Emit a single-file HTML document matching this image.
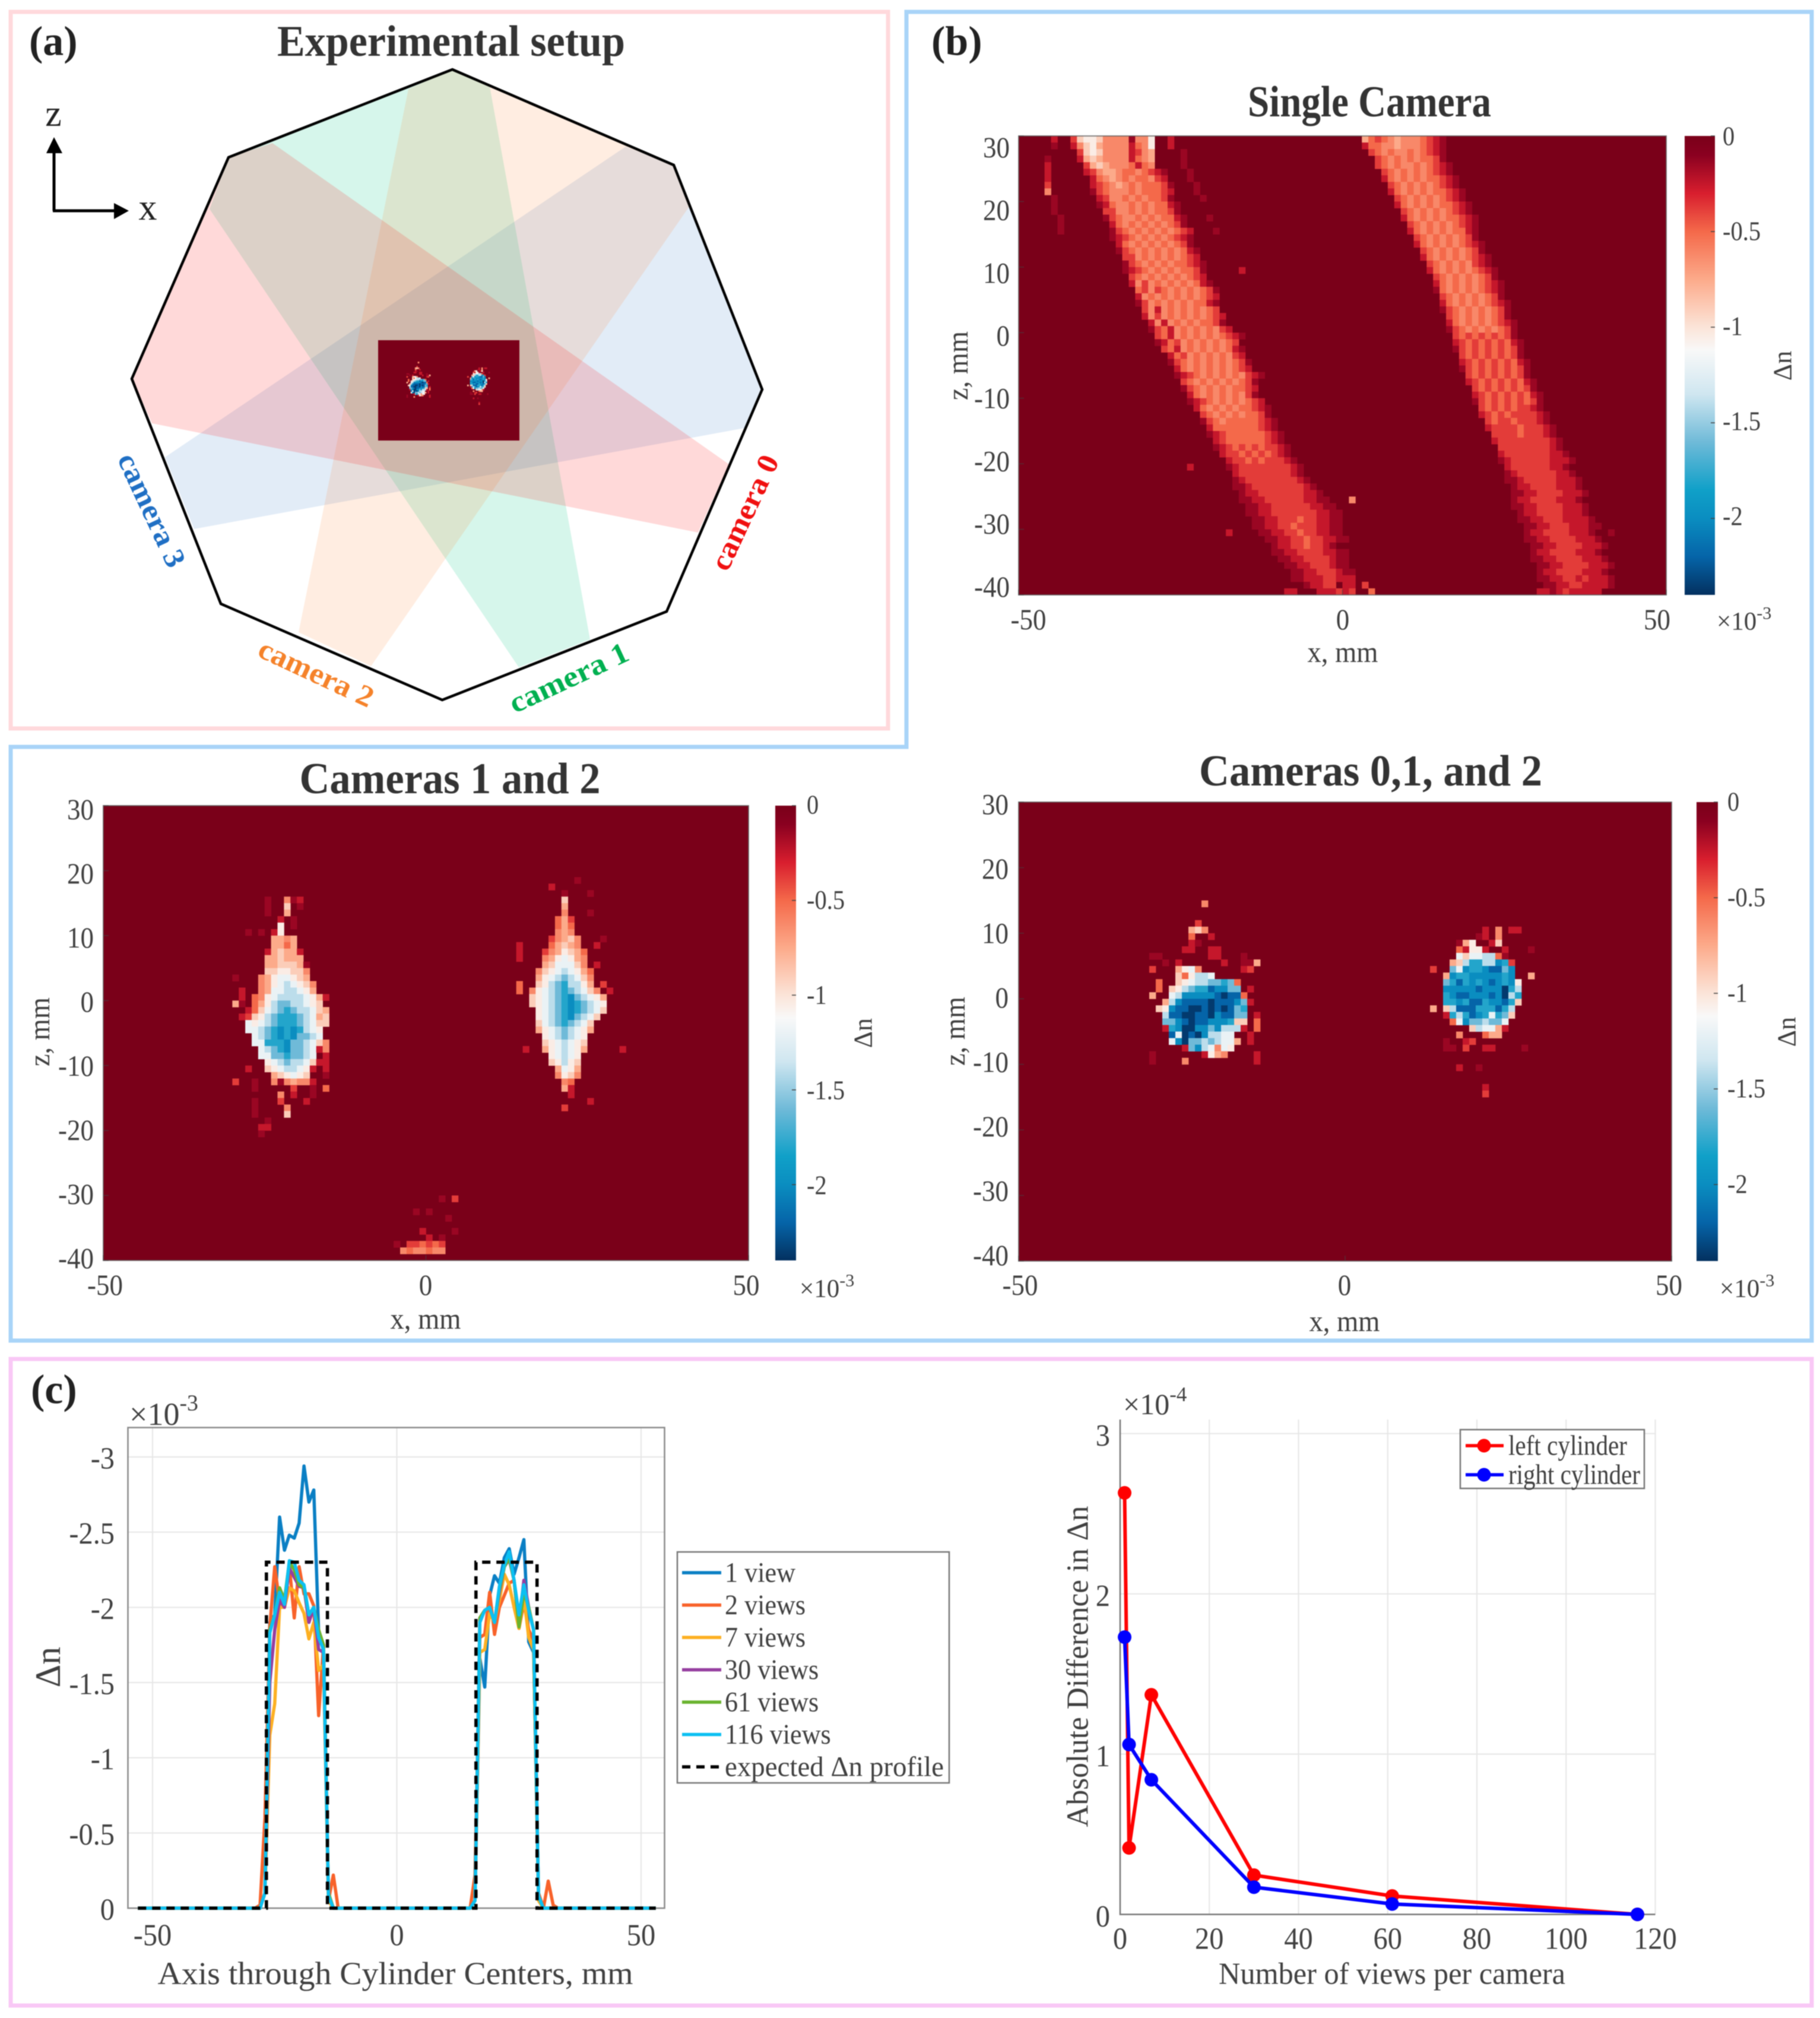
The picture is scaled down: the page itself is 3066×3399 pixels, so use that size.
<!DOCTYPE html>
<html lang="en">
<head>
<meta charset="utf-8">
<title>Refractive index reconstruction figure</title>
<style>
html,body{margin:0;padding:0;background:#fff;}
svg{display:block;filter:blur(0.8px);}
text{font-family:"Liberation Serif","DejaVu Serif",serif;fill:#404040;}
.title{font-weight:bold;font-size:74px;fill:#333;text-anchor:middle;dominant-baseline:central;}
.panel{font-weight:bold;font-size:70px;fill:#222;dominant-baseline:central;}
.cam{font-weight:bold;font-size:50px;text-anchor:middle;dominant-baseline:central;}
.lab{font-size:50px;text-anchor:middle;dominant-baseline:central;}
.leg{font-size:48px;dominant-baseline:central;fill:#404040;}
</style>
</head>
<body>
<svg id="fig" xmlns="http://www.w3.org/2000/svg" width="3066" height="3399" viewBox="0 0 3066 3399">
  <rect width="3066" height="3399" fill="#fff"/>
  <rect x="18" y="20" width="1478" height="1207" fill="none" stroke="#ffd9dc" stroke-width="7"/>
  <polygon points="1527,20 3052,20 3052,2258 18,2258 18,1258 1527,1258" fill="none" stroke="#a9d4f8" stroke-width="7"/>
  <rect x="18" y="2289" width="3034" height="1089" fill="none" stroke="#f9c8f6" stroke-width="7"/>

  <g>
    <polygon points="1054,247 1135,278 1284,656 1254,721 327,891 278,770" fill="rgb(31,111,196)" fill-opacity="0.13"/>
    <polygon points="353,352 874,1124 994,1077 825,146 762,117 385.5,265" fill="rgb(0,200,130)" fill-opacity="0.16"/>
    <polygon points="688,150 503,1065 625,1122 1161,348 1135,278 762,117" fill="rgb(255,127,39)" fill-opacity="0.14"/>
    <polygon points="459,241 1228,782 1176,897 256,713 222.5,638 385.5,265" fill="rgb(255,0,0)" fill-opacity="0.15"/>
    <polygon points="762,117 1135,278 1284,656 1123,1030 745,1179 372,1017 222,638 385,265" fill="none" stroke="#000" stroke-width="4.5"/>
    <g id="miniMap"></g>
    <line x1="91" y1="355" x2="91" y2="250" stroke="#000" stroke-width="5"/>
    <polygon points="91,231 78,258 105,258" fill="#000"/>
    <line x1="89" y1="355" x2="198" y2="355" stroke="#000" stroke-width="5"/>
    <polygon points="217,355 192,342 192,369" fill="#000"/>
    <text x="90" y="192" class="lab" style="font-size:62px;fill:#222">z</text>
    <text x="249" y="350" class="lab" style="font-size:62px;fill:#222">x</text>
    <text class="cam" transform="translate(1254,863) rotate(-65)" style="fill:#f01010" textLength="208" lengthAdjust="spacingAndGlyphs">camera 0</text>
    <text class="cam" transform="translate(958,1141) rotate(-25)" style="fill:#00b050" textLength="216" lengthAdjust="spacingAndGlyphs">camera 1</text>
    <text class="cam" transform="translate(533,1133) rotate(25)" style="fill:#f5822a" textLength="208" lengthAdjust="spacingAndGlyphs">camera 2</text>
    <text class="cam" transform="translate(256,859) rotate(65)" style="fill:#1f6fc4" textLength="206" lengthAdjust="spacingAndGlyphs">camera 3</text>
  </g>

  <text x="49" y="70" class="panel">(a)</text>
  <text x="1569" y="70" class="panel">(b)</text>
  <text x="52" y="2341" class="panel">(c)</text>
  <text x="760" y="70" class="title" textLength="586" lengthAdjust="spacingAndGlyphs">Experimental setup</text>
  <text x="2307" y="172" class="title" textLength="410" lengthAdjust="spacingAndGlyphs">Single Camera</text>
  <text x="758" y="1312" class="title" textLength="507" lengthAdjust="spacingAndGlyphs">Cameras 1 and 2</text>
  <text x="2309" y="1299" class="title" textLength="578" lengthAdjust="spacingAndGlyphs">Cameras 0,1, and 2</text>

  <defs>
    <linearGradient id="cbGrad" x1="0" y1="0" x2="0" y2="1"></linearGradient>
    <clipPath id="clipSingle"><rect x="1716" y="229" width="1091" height="773"/></clipPath>
    <clipPath id="clip12"><rect x="174" y="1357" width="1087" height="766"/></clipPath>
    <clipPath id="clip012"><rect x="1716" y="1351" width="1100" height="773"/></clipPath>
    <clipPath id="clipMini"><rect x="637" y="573" width="238" height="169"/></clipPath>
  </defs>

  <g id="hmSingle"></g>
  <g id="hm12"></g>
  <g id="hm012"></g>
  <g id="profileChart"></g>
  <g id="errorChart"></g>
</svg>

<script>
/* ---------- colormap data ---------- */
const cmapValues = [0, -0.1, -0.3, -0.5, -0.75, -1, -1.12, -1.35, -1.6, -1.85, -2, -2.2, -2.4];
const cmapColors = ['#7a0019','#8a0020','#d81e2e','#f4694a','#fcaa8a','#fbe4d8','#f8f8f8','#cfe6f0','#6fbad8','#10a0c8','#0a8dc0','#0564a8','#03305f'];
/* level characters 0-f in the heat rows index this list of delta-n values (x 1e-3) */
const levelValues = [0,-0.14,-0.25,-0.38,-0.5,-0.62,-0.75,-0.9,-1.05,-1.2,-1.4,-1.6,-1.8,-2,-2.2,-2.36];

/* ---------- heat map data: one entry per z-row (top to bottom), "column:levels" runs ---------- */
const singleCameraRows = [
"5:2|8:3788755551558|23:2","5:1|8:2578655552458|23:2","9:378755552356|25:1","4:1|9:267655552456|25:1","4:2|10:36765554245|25:1",
"4:2|10:2356654454321|26:1","4:2|11:245654544532|26:1","4:3|11:2345654544431|27:1","4:5|11:1345554544432|27:1","5:1|12:235545454431|28:1",
"5:1|12:1245545454421","5:1|13:335545454431","6:1|13:1345545454421|29:1","6:1|14:245454545431","6:1|14:1345454545432|30:1",
"14:1234545454321","15:245454545431","15:1345454545421","16:335454545432","16:1345454544321",
"16:1234545454431|34:2","17:345454545432","17:2535454545421","18:4353454545431","18:2545454545432",
"18:1354545454421","19:352545454543","19:2535454545432","20:252545454431","20:1342545454532",
"21:34254545454321","21:1243545454543","22:3425454545421","23:243545454532","23:1345454545431",
"24:245454545432","24:12345454545321","25:345454545431","25:134545454432","26:24545454531",
"26:123454545432","27:245454544321","28:34545454431","28:134544444321","29:24444444321",
"29:123444444321","30:23444444321","30:123434343321","31:23343434321","32:23343433321",
"26:2|32:123333333321","33:23333333321","33:123333333321","33:1123333333321","34:1223333333221",
"34:11223333332211|51:5","34:011223333332211","35:112233333332211","35:011223334332211","36:11223343332211",
"32:2|37:1122334332211","38:1122334332211","38:01223343321","39:112233332211","40:11223333211",
"41:1122333211","41:01122333211","42:1122233222","44:12233|50:22|53:3","41:22|46:222323|54:4"
];
const singleCameraRightBand = [
"53:6434565554321","53:2445565554321","54:345455454321","55:34545454431","55:345455454321",
"56:34545454321","56:245454544321","57:34545454321","57:245454544321","58:34545454321",
"58:245454544321","59:34545454321","59:245454544321","60:34545454321","60:24545454421",
"61:3454545431","61:24545454321","62:3454545431","62:24545454321","63:3454545321",
"63:24545454321","64:3454545431","64:24545454321","64:14545454321","65:3454545431",
"65:24545454321","65:13454545431","66:3454545431","66:24545454321","66:13454545431",
"67:3434343431","67:23434343421","67:13434343431","68:3434343431","68:23434343421",
"68:13434343431","69:3434343431","69:23434343421","70:3434343431","70:23434343421",
"70:13434343431","71:3434343321","71:23434333321","72:3433433321","72:23333433321",
"73:3333433321","73:23333333321","74:3333333321","74:23333333221","74:123333332221",
"75:2333333221","75:12333333221","75:112333332221","76:12233332221","76:112233332221",
"76:12233332221","76:112233332221","77:12233332221","77:112233322221","77:0112233322211",
"78:12233332221|91:1","78:112233332221","78:0112233332221","79:12233332221","79:112233332221",
"79:0112233332221","80:12233332221","80:112233232221","80:011223322221","80:2212322222"
];
const camerasOneTwoRows = [
"","","","","","","","","","","",
"73:1","69:2","71:1|75:1",
"25:1|28:512|71:7","25:1|28:701|71:6","25:1|28:6|71:5|75:1","27:2|29:1|70:463","27:8|29:1|70:464",
"22:1|24:1|26:28|70:565","26:6656|69:35675|77:1","26:6646|64:2|69:46765|76:2","25:267662|64:2|68:3568764","25:667666|64:2|68:5689865",
"25:6677761|68:6799975|76:2","25:7788775|67:5789a9864","20:1|24:56899876|67:689aba975","24:5689a9875|64:4|67:78abcaa86|77:3","21:2|24:5699aa986|64:4|66:589abcba975|78:2",
"21:2|23:4589aaaa9862|66:789abcdba986","20:61|23:468abbaa987|66:789abcdcba98","22:2479abcbaa976|67:89abcdcba97","21:2378abcccba967|67:89abcdba97","22:989abcccba977|67:79abcba97",
"22:99abcdcdca98|67:689aba986","23:9abcdcdbba9|68:89aba98","23:99cccdbba975|68:789a987","24:9abcdbba925|65:2|68:689a986|80:2","24:99bbcbba902|69:89a98",
"25:89abaa9722|69:78a87","22:2|25:789aa98202|70:6986","26:678987001|70:5875","20:3|23:1|26:5156552|71:54","23:1|29:3|32:1|34:4|71:62",
"27:5|29:2|32:1|72:2","23:1|27:3|31:2|75:2","23:1|28:5|71:3","23:1|28:7","25:1",
"24:22","24:1","","","","","","","","","",
"52:1|54:3","","48:1|50:1","53:1","",
"49:2|54:1","50:2|52:1","45:1|47:334343","46:5455455"
];
const camerasZeroOneTwoRows = [
"","","","","","","","","","","","","","","",
"28:5","","","27:3",
"26:675|71:2|73:5|75:22","26:4|29:2|70:12|73:5","26:21|67:168|72:27","25:22|29:22|67:4288|71:2|74:2|78:1","20:11|29:22|34:1|67:9799aa41",
"22:1|24:2|31:2|34:11|36:6|66:67accaadc3","20:3|24:6895|34:23|63:3|66:b9dccdeebd","24:748aa9|65:6dccdddddcd|78:6","21:4|24:789aabbcb4|65:bcecdcdedcd8","21:4|23:78abcceddbb|35:2|65:dddddedddfca",
"20:6|23:9adddddefee4|65:cdeedddedfac","22:6adeeeefeeedb2|65:ccdceecddec7","21:78deeffefefebc|63:6|65:7aeeeccceca","22:aeeffeefdeebb|36:2|65:2cacedc9cb7","22:bbdefeedddc77|36:4|66:49dbbabb9",
"22:2cdffddbdaaa2|36:4|69:7a9962","23:e9fefdaa99|35:2|67:5|71:466","23:9dfbbaba996|35:2|65:1|68:23","25:2bda9598|65:11|68:3|71:22|77:1","20:1|28:2865|36:2",
"20:1|25:5|36:2","67:2|70:1","","","71:2",
"71:3","","","","","","","","","",
"","","","","","","","","","",
"","","","","",""
];

/* ---------- heat map axes data ---------- */
const zTicks = [30,20,10,0,-10,-20,-30,-40];
const xTicks = [-50,0,50];
const colorbarTicks = [0,-0.5,-1,-1.5,-2];

/* ---------- profile chart data (x in mm, values in 1e-3 delta-n) ---------- */
const profileX = [-53,-29,-28,-27,-26,-25,-24,-23,-22,-21,-20,-19,-18,-17,-16,-15,-14,-13,-12,14,15,16,17,18,19,20,21,22,23,24,25,26,27,28,29,30,31,32,33,53];
const view1 = [0,0,0,-0.1,-1.9,-1.95,-2.6,-2.38,-2.48,-2.46,-2.56,-2.94,-2.7,-2.78,-1.83,-1.71,-0.1,0,0,0,0,-0.05,-1.66,-1.47,-2.08,-2.21,-2.16,-2.33,-2.39,-2.22,-2.33,-2.45,-1.77,-1.7,-0.1,0,0,0,0,0];
const views2 = [0,0,-0.02,-0.6,-1.87,-2.27,-2.03,-2,-2.28,-1.93,-2.27,-2.09,-2.09,-2.01,-1.28,-1.75,-0.05,-0.22,0,0,0,-0.22,-1.8,-1.82,-2.1,-1.82,-2,-2.08,-2.16,-2.18,-1.86,-2.03,-1.85,-1.78,-0.1,0,-0.18,-0.02,0,0];
const views7 = [0,0,0,-0.1,-1.15,-1.36,-2,-2,-2.13,-2.11,-2.03,-1.96,-1.79,-1.9,-1.58,-1.62,-0.05,0,0,0,0,-0.05,-1.7,-1.72,-1.96,-1.9,-2.05,-2.22,-2.15,-2,-1.86,-2.07,-1.8,-1.72,-0.05,0,0,0,0,0];
const views30 = [0,0,0,-0.1,-1.5,-1.85,-2.05,-2,-2.26,-2.2,-2.14,-2.13,-1.9,-2,-1.72,-1.7,-0.1,0,0,0,0,-0.05,-1.93,-1.98,-2,-1.9,-2.1,-2.27,-2.32,-2.18,-1.88,-2.18,-2,-1.85,-0.08,0,0,0,0,0];
const views61 = [0,0,0,-0.1,-1.85,-1.95,-2.13,-2.05,-2.3,-2.25,-2.15,-2.13,-1.95,-2,-1.85,-1.75,-0.1,0,0,0,0,-0.05,-1.93,-1.98,-2,-1.9,-2.12,-2.27,-2.33,-2.18,-1.87,-2.1,-2,-1.85,-0.08,0,0,0,0,0];
const views116 = [0,0,0,-0.1,-1.83,-1.95,-2.1,-2.02,-2.31,-2.3,-2.18,-2.15,-1.95,-2,-1.8,-1.72,-0.08,0,0,0,0,-0.05,-1.9,-1.98,-2,-1.9,-2.14,-2.28,-2.37,-2.18,-1.95,-2.15,-1.98,-1.85,-0.08,0,0,0,0,0];
const expectedX = [-53,-26.7,-26.7,-14.2,-14.2,16.2,16.2,28.7,28.7,53];
const expectedY = [0,0,-2.3,-2.3,0,0,-2.3,-2.3,0,0];
const profileLegendLabels = ['1 view','2 views','7 views','30 views','61 views','116 views'];
const profileColors = ['#0a7fc4','#f8622a','#fdb022','#963ea0','#6ab32e','#0cc0f2'];
const profileXTicks = [-50,0,50];
const profileYTicks = [-3,-2.5,-2,-1.5,-1,-0.5,0];

/* ---------- error chart data (values in 1e-4) ---------- */
const viewCounts = [1,2,7,30,61,116];
const leftCylinder = [2.63,0.415,1.37,0.245,0.115,0];
const rightCylinder = [1.73,1.06,0.84,0.17,0.065,0];
const errorXTicks = [0,20,40,60,80,100,120];
const errorYTicks = [0,1,2,3];

/* ---------- helpers ---------- */
const NS = 'http://www.w3.org/2000/svg';
function mk(tag, attrs, parent){
  const e = document.createElementNS(NS, tag);
  for (const k in attrs) e.setAttribute(k, attrs[k]);
  parent.appendChild(e);
  return e;
}
function condense(t, f){
  t.setAttribute('textLength', (t.getComputedTextLength() * f).toFixed(1));
  t.setAttribute('lengthAdjust', 'spacingAndGlyphs');
}
function linear(d0, d1, r0, r1){ return v => r0 + (v - d0) * (r1 - r0) / (d1 - d0); }
function hex(c){ return [parseInt(c.slice(1,3),16),parseInt(c.slice(3,5),16),parseInt(c.slice(5,7),16)]; }
function colorOf(v){
  for (let i = 0; i < cmapValues.length - 1; i++){
    if (v <= cmapValues[i] && v >= cmapValues[i+1]){
      const t = (cmapValues[i] - v) / (cmapValues[i] - cmapValues[i+1]);
      const a = hex(cmapColors[i]), b = hex(cmapColors[i+1]);
      return 'rgb(' + a.map((x,j)=>Math.round(x + (b[j]-x)*t)).join(',') + ')';
    }
  }
  return v > 0 ? cmapColors[0] : cmapColors[cmapColors.length-1];
}
function addExponent(parent, x, y, exp, size, name){
  const t = mk('text', {x:x, y:y, 'font-size':size, 'dominant-baseline':'central'}, parent);
  
  
  t.appendChild(document.createTextNode('\u00d710'));
  const s = mk('tspan', {dy:-size*0.34, 'font-size':size*0.7}, t);
  s.textContent = exp;
}

/* colorbar gradient built from the colormap arrays */
const gradEl = document.getElementById('cbGrad');
cmapValues.forEach((v,i)=>{
  const st = mk('stop', {offset:(-v/2.4), 'stop-color':cmapColors[i]}, gradEl);
  
  
});

function drawCells(parent, rowsList, xAxis, zAxis, clipId){
  const g = mk('g', {'clip-path':'url(#'+clipId+')'}, parent);
  
  
  const bg = mk('rect', {x:xAxis(-50), y:zAxis(30), width:xAxis(50)-xAxis(-50), height:zAxis(-40)-zAxis(30), fill:colorOf(levelValues[0])}, g);
  
  
  const w = xAxis(-49) - xAxis(-50), h = zAxis(29) - zAxis(30);
  rowsList.forEach(rows => rows.forEach((row, i) => {
    if (!row) return;
    row.split('|').forEach(run => {
      if (!run) return;
      const p = run.split(':');
      const start = parseInt(p[0], 10);
      const chars = p[1] || '';
      for (let k = 0; k < chars.length; k++){
        const idx = parseInt(chars[k], 16);
        if (!idx) continue;
        const c = mk('rect', {x:xAxis(-50 + start + k), y:zAxis(30 - i), width:w + 0.4, height:h + 0.4, fill:colorOf(levelValues[idx])}, g);
        
        
      }
    });
  }));
}

function drawHeatPanel(id, rowsList, clipId, cfg){
  const parent = document.getElementById(id);
  const xAxis = linear(-50, 50, cfg.px, cfg.px + cfg.pw);
  const zAxis = linear(30, -40, cfg.py, cfg.py + cfg.ph);
  const cbAxis = linear(0, -2.4, cfg.py, cfg.py + cfg.ph);
  drawCells(parent, rowsList, xAxis, zAxis, clipId);
  const box = mk('rect', {x:cfg.px, y:cfg.py, width:cfg.pw, height:cfg.ph, fill:'none', stroke:'#555', 'stroke-width':2, 'stroke-opacity':0.7}, parent);
  
  
  zTicks.forEach(v=>{
    const t = mk('line', {x1:cfg.px, x2:cfg.px+9, y1:zAxis(v), y2:zAxis(v), stroke:'#444', 'stroke-width':1.5, 'stroke-opacity':0.6}, parent);
    
    
    const l = mk('text', {x:cfg.zLabelRight, y:cfg.zLabel0 - v*cfg.zLabelStep, 'font-size':50, 'text-anchor':'end', 'dominant-baseline':'central'}, parent);
    l.textContent = v;
    condense(l, 0.9);
    
    
  });
  xTicks.forEach(v=>{
    const t = mk('line', {x1:xAxis(v), x2:xAxis(v), y1:cfg.py+cfg.ph, y2:cfg.py+cfg.ph-9, stroke:'#444', 'stroke-width':1.5, 'stroke-opacity':0.6}, parent);
    
    
    const l = mk('text', {x:cfg.xLabel0 + v*cfg.xLabelStep, y:cfg.xLabelY, 'font-size':50, 'text-anchor':'middle', 'dominant-baseline':'central'}, parent);
    l.textContent = v;
    condense(l, 0.9);
    
    
  });
  const xt = mk('text', {x:cfg.xTitle[0], y:cfg.xTitle[1], class:'lab'}, parent);
  xt.textContent = 'x, mm';
  condense(xt, 0.93);
  
  
  const zt = mk('text', {class:'lab', transform:'translate('+cfg.zTitle[0]+','+cfg.zTitle[1]+') rotate(-90)'}, parent);
  zt.textContent = 'z, mm';
  condense(zt, 0.93);
  
  
  const cb = mk('rect', {x:cfg.cbx, y:cfg.py, width:cfg.cbw, height:cfg.ph, fill:'url(#cbGrad)'}, parent);
  
  
  colorbarTicks.forEach(v=>{
    const t = mk('line', {x1:cfg.cbx+cfg.cbw-7, x2:cfg.cbx+cfg.cbw, y1:cbAxis(v), y2:cbAxis(v), stroke:'#444', 'stroke-width':1.5}, parent);
    
    
    const l = mk('text', {x:cfg.cbLabelX, y:cfg.cbLabel0 - v*cfg.cbLabelStep, 'font-size':46, 'dominant-baseline':'central'}, parent);
    l.textContent = v;
    condense(l, 0.88);
    
    
  });
  const dn = mk('text', {class:'lab', style:'font-size:44px', transform:'translate('+cfg.dn[0]+','+cfg.dn[1]+') rotate(-90)'}, parent);
  dn.textContent = '\u0394n';
  
  
  addExponent(parent, cfg.exp[0], cfg.exp[1], '-3', 43, 'colorbar-exponent');
}

drawHeatPanel('hmSingle', [singleCameraRows, singleCameraRightBand], 'clipSingle', {
  px:1716, py:229, pw:1091, ph:773, cbx:2838, cbw:51,
  zLabelRight:1701, zLabel0:565, zLabelStep:10.57,
  xLabel0:2262, xLabelStep:10.59, xLabelY:1043,
  xTitle:[2262,1098], zTitle:[1613,616],
  cbLabelX:2902, cbLabel0:229, cbLabelStep:320,
  dn:[3003,616], exp:[2892,1047]
});
drawHeatPanel('hm12', [camerasOneTwoRows], 'clip12', {
  px:174, py:1357, pw:1087, ph:766, cbx:1306, cbw:35,
  zLabelRight:158, zLabel0:1687, zLabelStep:10.8,
  xLabel0:717, xLabelStep:10.8, xLabelY:2164,
  xTitle:[717,2221], zTitle:[66,1738],
  cbLabelX:1359, cbLabel0:1355, cbLabelStep:320.5,
  dn:[1454,1740], exp:[1347,2171]
});
drawHeatPanel('hm012', [camerasZeroOneTwoRows], 'clip012', {
  px:1716, py:1351, pw:1100, ph:773, cbx:2858, cbw:36,
  zLabelRight:1699, zLabel0:1680, zLabelStep:10.85,
  xLabel0:2265, xLabelStep:10.93, xLabelY:2164,
  xTitle:[2265,2225], zTitle:[1608,1737],
  cbLabelX:2910, cbLabel0:1350, cbLabelStep:322,
  dn:[3010,1738], exp:[2897,2171]
});
/* small copy of the three-camera reconstruction inside the setup sketch */
drawCells(document.getElementById('miniMap'), [camerasZeroOneTwoRows],
  linear(-50, 50, 637, 875), linear(30, -40, 573, 742), 'clipMini');

/* ---------- profile chart ---------- */
(function(){
  const parent = document.getElementById('profileChart');
  const L = 215.5, R = 1119.5, T = 2404.5, B = 3214;
  const x = linear(-55, 55, 668.5-55*8.23, 668.5+55*8.23);
  const y = linear(0, -3, 3214, 2454);
  profileXTicks.forEach(v=>{
    const g = mk('line', {x1:x(v), x2:x(v), y1:T, y2:B, stroke:'#e6e6e6', 'stroke-width':2}, parent);
    
    
    const l = mk('text', {x:x(v), y:3260, 'font-size':52, 'text-anchor':'middle', 'dominant-baseline':'central'}, parent);
    l.textContent = v;
    condense(l, 0.93);
    
    
  });
  profileYTicks.forEach(v=>{
    const g = mk('line', {x1:L, x2:R, y1:y(v), y2:y(v), stroke:'#e6e6e6', 'stroke-width':2}, parent);
    
    
    const l = mk('text', {x:193, y:y(v)+3, 'font-size':52, 'text-anchor':'end', 'dominant-baseline':'central'}, parent);
    l.textContent = v;
    condense(l, 0.93);
    
    
  });
  const box = mk('rect', {x:L, y:T, width:R-L, height:B-T, fill:'none', stroke:'#8a8a8a', 'stroke-width':2.5}, parent);
  
  
  [view1,views2,views7,views30,views61,views116].forEach((s,i)=>{
    const pts = s.map((v,k)=>x(profileX[k]).toFixed(1)+','+y(v).toFixed(1)).join(' ');
    const p = mk('polyline', {points:pts, fill:'none', stroke:profileColors[i], 'stroke-width':5.5, 'stroke-linejoin':'round'}, parent);
    
    
  });
  const expPts = expectedY.map((v,k)=>x(expectedX[k]).toFixed(1)+','+y(v).toFixed(1)).join(' ');
  const ep = mk('polyline', {points:expPts, fill:'none', stroke:'#000', 'stroke-width':5.5, 'stroke-dasharray':'14 10'}, parent);
  
  
  const xt = mk('text', {x:666, y:3324, 'font-size':54, 'text-anchor':'middle', 'dominant-baseline':'central', textLength:801, lengthAdjust:'spacingAndGlyphs'}, parent);
  xt.textContent = 'Axis through Cylinder Centers, mm';
  
  
  const yt = mk('text', {'font-size':60, 'text-anchor':'middle', 'dominant-baseline':'central', transform:'translate(81,2808) rotate(-90)'}, parent);
  yt.textContent = '\u0394n';
  
  
  addExponent(parent, 218, 2382, '-3', 54, 'y-axis-exponent');

  const lg = mk('rect', {x:1141, y:2614, width:458, height:389, fill:'#fff', stroke:'#777', 'stroke-width':2.5}, parent);
  
  
  const ly = linear(0, 6, 2649, 2976);
  profileLegendLabels.forEach((lab,i)=>{
    const ln = mk('line', {x1:1149, x2:1215, y1:ly(i), y2:ly(i), stroke:profileColors[i], 'stroke-width':5.5}, parent);
    
    
    const t = mk('text', {x:1221, y:ly(i), class:'leg'}, parent);
    t.textContent = lab;
    condense(t, 0.92);
    
    
  });
  const dl = mk('line', {x1:1149, x2:1215, y1:ly(6), y2:ly(6), stroke:'#000', 'stroke-width':5.5, 'stroke-dasharray':'14 10'}, parent);
  
  
  const dt = mk('text', {x:1221, y:ly(6), class:'leg', textLength:369, lengthAdjust:'spacingAndGlyphs'}, parent);
  dt.textContent = 'expected \u0394n profile';
  
  
})();

/* ---------- error chart ---------- */
(function(){
  const parent = document.getElementById('errorChart');
  const L = 1887, R = 2788.5, T = 2391, B = 3224.5;
  const x = linear(0, 120, L, R);
  const y = linear(0, 3, B, 2414.6);
  errorXTicks.forEach(v=>{
    const g = mk('line', {x1:x(v), x2:x(v), y1:T, y2:B, stroke:'#e6e6e6', 'stroke-width':2}, parent);
    
    
    const l = mk('text', {x:x(v), y:3266, 'font-size':52, 'text-anchor':'middle', 'dominant-baseline':'central'}, parent);
    l.textContent = v;
    condense(l, 0.93);
    
    
  });
  errorYTicks.forEach(v=>{
    const g = mk('line', {x1:L, x2:R, y1:y(v), y2:y(v), stroke:'#e6e6e6', 'stroke-width':2}, parent);
    
    
    const l = mk('text', {x:1870, y:y(v)+4, 'font-size':52, 'text-anchor':'end', 'dominant-baseline':'central'}, parent);
    l.textContent = v;
    condense(l, 0.93);
    
    
  });
  const ax = mk('polyline', {points:L+','+T+' '+L+','+B+' '+R+','+B, fill:'none', stroke:'#777', 'stroke-width':2.5}, parent);
  
  
  [[leftCylinder,'#ff0000','left-cylinder'],[rightCylinder,'#0000ff','right-cylinder']].forEach(s=>{
    const pts = s[0].map((v,k)=>x(viewCounts[k]).toFixed(1)+','+y(v).toFixed(1)).join(' ');
    const p = mk('polyline', {points:pts, fill:'none', stroke:s[1], 'stroke-width':6, 'stroke-linejoin':'round'}, parent);
    
    
    s[0].forEach((v,k)=>{
      const c = mk('circle', {cx:x(viewCounts[k]), cy:y(v), r:11.5, fill:s[1]}, parent);
      
      
    });
  });
  const xt = mk('text', {x:2345, y:3325, 'font-size':52, 'text-anchor':'middle', 'dominant-baseline':'central', textLength:584, lengthAdjust:'spacingAndGlyphs'}, parent);
  xt.textContent = 'Number of views per camera';
  
  
  const yt = mk('text', {'font-size':52, 'text-anchor':'middle', 'dominant-baseline':'central', transform:'translate(1816,2807) rotate(-90)', textLength:541, lengthAdjust:'spacingAndGlyphs'}, parent);
  yt.textContent = 'Absolute Difference in \u0394n';
  
  
  addExponent(parent, 1892, 2365, '-4', 50, 'y-axis-exponent');

  const lg = mk('rect', {x:2460, y:2408, width:310, height:99, fill:'#fff', stroke:'#777', 'stroke-width':2.5}, parent);
  
  
  [['left cylinder','#ff0000',2435],['right cylinder','#0000ff',2484]].forEach(e=>{
    const ln = mk('line', {x1:2469, x2:2533, y1:e[2], y2:e[2], stroke:e[1], 'stroke-width':5.5}, parent);
    
    
    const c = mk('circle', {cx:2500, cy:e[2], r:11.5, fill:e[1]}, parent);
    
    
    const t = mk('text', {x:2541, y:e[2], class:'leg', textLength:e[0].length === 13 ? 200 : 222, lengthAdjust:'spacingAndGlyphs'}, parent);
    t.textContent = e[0];
    
    
  });
})();
</script>
</body>
</html>
